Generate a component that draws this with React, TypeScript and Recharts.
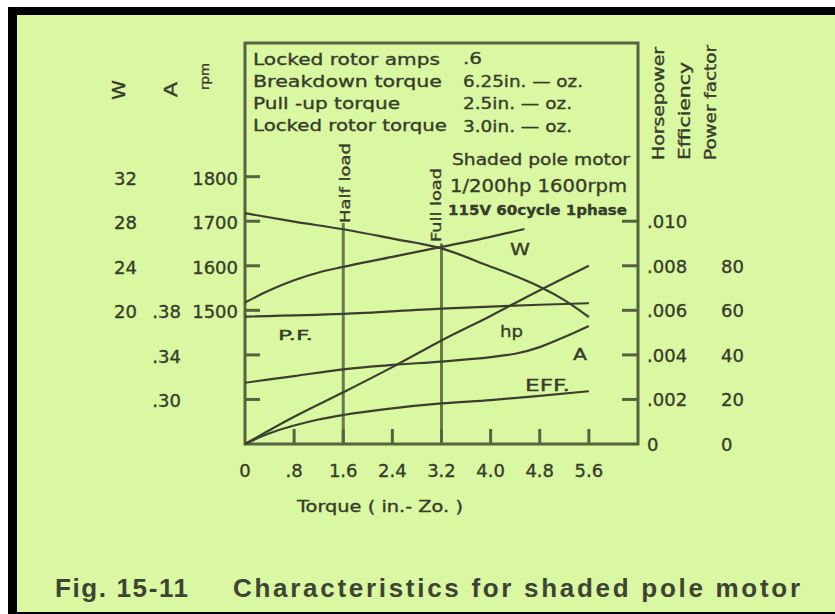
import { Line, LineChart, ReferenceArea, ReferenceLine, XAxis, YAxis } from "recharts";

// torque axis (in.-oz.)
const TORQUE_TICKS = [0, 0.8, 1.6, 2.4, 3.2, 4.0, 4.8, 5.6];
const TORQUE_LABELS = ["0", ".8", "1.6", "2.4", "3.2", "4.0", "4.8", "5.6"];

// left scales
const RPM_TICKS = [1300, 1400, 1500, 1600, 1700, 1800];
const RPM_LABELS = ["", "", "1500", "1600", "1700", "1800"];
const AMP_TICKS = [0.3, 0.34, 0.38];
const AMP_LABELS = [".30", ".34", ".38"];
const WATT_TICKS = [20, 24, 28, 32];
const WATT_LABELS = ["20", "24", "28", "32"];

// right scales
const HP_TICKS = [0, 0.002, 0.004, 0.006, 0.008, 0.01];
const HP_LABELS = ["0", ".002", ".004", ".006", ".008", ".010"];
const PCT_TICKS = [0, 20, 40, 60, 80];
const PCT_LABELS = ["0", "20", "40", "60", "80"];

// curves
const SPEED_T = [0, 0.8, 1.6, 2.4, 3.2, 4.0, 4.4, 4.8, 5.2, 5.6];
const SPEED_RPM = [1718, 1699, 1682, 1661, 1639, 1598, 1577, 1553, 1523, 1485];

const WATT_T = [0, 0.4, 0.8, 1.2, 1.6, 2.4, 3.2, 4.0, 4.55];
const WATT_W = [20.7, 21.8, 22.7, 23.4, 23.9, 24.8, 25.7, 26.6, 27.3];

const PF_T = [0, 1.6, 3.2, 4.0, 4.8, 5.6];
const PF_PCT = [57.2, 58.4, 60.8, 61.7, 62.5, 63.2];

const HP_T = [0, 0.8, 1.6, 2.4, 3.2, 4.0, 4.8, 5.6];
const HP_HP = [0, 0.00122, 0.00232, 0.00345, 0.00465, 0.00575, 0.0069, 0.008];

const AMP_T = [0, 0.8, 1.6, 2.4, 3.2, 4.0, 4.4, 4.8, 5.2, 5.6];
const AMP_A = [0.315, 0.321, 0.327, 0.331, 0.334, 0.338, 0.341, 0.347, 0.356, 0.366];

const EFF_T = [0, 0.4, 0.8, 1.2, 1.6, 2.4, 3.2, 4.0, 4.8, 5.6];
const EFF_PCT = [0, 4.8, 8.3, 11.0, 13.0, 16.0, 18.2, 19.7, 21.6, 23.7];

// half load / full load markers (top end in rpm-axis units)
const LOAD_T = [1.6, 3.2];
const LOAD_TOP = [1696, 1650];

const pts = (t: number[], v: number[]) => t.map((x, i) => ({ t: x, v: v[i] }));

const INK = "#363d2b";
const CURVE = "#39412e";
const FRAME = "#56633f";
const LOADLINE = "#6a7a4c";
const BG = "#daf7a1";
const FONT = "'DejaVu Sans', sans-serif";

// axis ids sort in the order the axes sit outward from the plot
const AX_RPM = "l1";
const AX_AMP = "l2";
const AX_WATT = "l3";
const AX_HP = "r1";
const AX_PCT = "r2";

const textStyle = { fontFamily: FONT, fill: INK, stroke: INK, strokeWidth: 0.35 };

function LeftTick(props: any) {
  const { x, y, payload, ticks, labels, pad, mark } = props;
  const label = labels[ticks.indexOf(payload.value)];
  return (
    <g>
      {mark && <line x1={x} x2={x + 15} y1={y} y2={y} stroke={FRAME} strokeWidth={3} />}
      {label && (
        <text x={x - pad} y={y + 8} textAnchor="end" fontSize={18} {...textStyle}>
          {label}
        </text>
      )}
    </g>
  );
}

function RightTick(props: any) {
  const { x, y, payload, ticks, labels, pad, mark } = props;
  const label = labels[ticks.indexOf(payload.value)];
  return (
    <g>
      {mark && payload.value > 0 && (
        <line x1={x - 16} x2={x} y1={y} y2={y} stroke={FRAME} strokeWidth={3} />
      )}
      <text x={x + pad} y={y + 7} textAnchor="start" fontSize={18} {...textStyle}>
        {label}
      </text>
    </g>
  );
}

function BottomTick(props: any) {
  const { x, y, payload } = props;
  const label = TORQUE_LABELS[TORQUE_TICKS.indexOf(payload.value)];
  return (
    <g>
      {payload.value > 0 && <line x1={x} x2={x} y1={y - 15} y2={y} stroke={FRAME} strokeWidth={3} />}
      <text x={x} y={y + 33} textAnchor="middle" fontSize={18} {...textStyle}>
        {label}
      </text>
    </g>
  );
}

function T({ x, y, size = 16, len, bold, up, children }: any) {
  return (
    <text
      x={x}
      y={y}
      fontSize={size}
      fontWeight={bold ? 700 : 400}
      {...textStyle}
      textLength={len}
      lengthAdjust="spacingAndGlyphs"
      transform={up ? `rotate(-90 ${x} ${y})` : undefined}
    >
      {children}
    </text>
  );
}

export default function App() {
  const curve = { type: "monotone" as const, dot: false, stroke: CURVE, strokeWidth: 2.2, isAnimationActive: false, dataKey: "v", xAxisId: "t" };
  const yCommon = { interval: 0, axisLine: false, tickLine: false, tickSize: 0, tickMargin: 0 };

  return (
    <div style={{ position: "absolute", left: 0, top: 0, width: 835, height: 614, background: "#fff", overflow: "hidden" }}>
      <div
        style={{
          position: "absolute",
          left: 8,
          top: 7,
          width: 827,
          height: 607,
          boxSizing: "border-box",
          background: BG,
          borderTop: "8px solid #000",
          borderLeft: "9px solid #000",
          borderBottom: "2px solid #000",
        }}
      />
      <div style={{ position: "absolute", left: 0, top: 0 }}>
        <LineChart width={835} height={614} margin={{ top: 43, right: 0, bottom: 110, left: 0 }}>
          <XAxis
            xAxisId="t"
            type="number"
            dataKey="t"
            domain={[0, 6.4]}
            ticks={TORQUE_TICKS}
            interval={0}
            height={60}
            axisLine={false}
            tickLine={false}
            tickSize={0}
            tickMargin={0}
            tick={(p: any) => <BottomTick {...p} />}
          />
          <YAxis
            yAxisId={AX_RPM}
            domain={[1200, 2100]}
            ticks={RPM_TICKS}
            width={60}
            {...yCommon}
            tick={(p: any) => <LeftTick {...p} ticks={RPM_TICKS} labels={RPM_LABELS} pad={7} mark />}
          />
          <YAxis
            yAxisId={AX_AMP}
            domain={[0.26, 0.62]}
            ticks={AMP_TICKS}
            width={48}
            {...yCommon}
            tick={(p: any) => <LeftTick {...p} ticks={AMP_TICKS} labels={AMP_LABELS} pad={4} />}
          />
          <YAxis
            yAxisId={AX_WATT}
            domain={[8, 44]}
            ticks={WATT_TICKS}
            width={137}
            {...yCommon}
            tick={(p: any) => <LeftTick {...p} ticks={WATT_TICKS} labels={WATT_LABELS} pad={0} />}
          />
          <YAxis
            yAxisId={AX_HP}
            orientation="right"
            domain={[0, 0.018]}
            ticks={HP_TICKS}
            width={75}
            {...yCommon}
            tick={(p: any) => <RightTick {...p} ticks={HP_TICKS} labels={HP_LABELS} pad={9} mark />}
          />
          <YAxis
            yAxisId={AX_PCT}
            orientation="right"
            domain={[0, 180]}
            ticks={PCT_TICKS}
            width={122}
            {...yCommon}
            tick={(p: any) => <RightTick {...p} ticks={PCT_TICKS} labels={PCT_LABELS} pad={8} />}
          />

          <ReferenceArea
            xAxisId="t"
            yAxisId={AX_RPM}
            x1={0}
            x2={6.4}
            y1={1200}
            y2={2100}
            fill="none"
            fillOpacity={0}
            stroke={FRAME}
            strokeWidth={3}
          />
          {LOAD_T.map((t, i) => (
            <ReferenceLine
              key={t}
              xAxisId="t"
              yAxisId={AX_RPM}
              segment={[
                { x: t, y: 1200 },
                { x: t, y: LOAD_TOP[i] },
              ]}
              stroke={LOADLINE}
              strokeWidth={3}
            />
          ))}

          <Line {...curve} yAxisId={AX_RPM} data={pts(SPEED_T, SPEED_RPM)} />
          <Line {...curve} yAxisId={AX_WATT} data={pts(WATT_T, WATT_W)} />
          <Line {...curve} yAxisId={AX_PCT} data={pts(PF_T, PF_PCT)} />
          <Line {...curve} yAxisId={AX_HP} data={pts(HP_T, HP_HP)} />
          <Line {...curve} yAxisId={AX_AMP} data={pts(AMP_T, AMP_A)} />
          <Line {...curve} yAxisId={AX_PCT} data={pts(EFF_T, EFF_PCT)} />
        </LineChart>
      </div>

      <svg width={835} height={614} style={{ position: "absolute", left: 0, top: 0, pointerEvents: "none" }}>
        {/* motor data box */}
        <T x={253} y={65} len={187}>Locked rotor amps</T>
        <T x={253} y={87} len={189}>Breakdown torque</T>
        <T x={253} y={108.5} len={147}>Pull -up torque</T>
        <T x={253} y={130.5} len={194}>Locked rotor torque</T>
        <T x={463} y={64} len={19}>.6</T>
        <T x={463} y={87} len={120}>6.25in. — oz.</T>
        <T x={463} y={109} len={109}>2.5in. — oz.</T>
        <T x={463} y={132} len={109}>3.0in. — oz.</T>

        <T x={452} y={165} size={15} len={178}>Shaded pole motor</T>
        <T x={450} y={192} size={18} len={177}>1/200hp 1600rpm</T>
        <T x={448} y={215} size={14} len={179} bold>115V 60cycle 1phase</T>

        {/* axis names */}
        <T x={125} y={100} size={17} len={20} up>W</T>
        <T x={177} y={97} size={17} len={15} up>A</T>
        <T x={209} y={90} size={12} len={27} up>rpm</T>
        <T x={664} y={160} size={15} len={113} up>Horsepower</T>
        <T x={690} y={160} size={15} len={98} up>Efficiency</T>
        <T x={716} y={160} size={15} len={115} up>Power factor</T>

        <T x={350} y={223} size={14} len={80} up>Half load</T>
        <T x={441} y={242} size={14} len={74} up>Full load</T>

        {/* curve names */}
        <T x={510} y={255} size={15} len={20}>W</T>
        <T x={278} y={340} size={14} len={35}>P.F.</T>
        <T x={500} y={337} size={16} len={23}>hp</T>
        <T x={573} y={360} size={15} len={14}>A</T>
        <T x={525} y={391} size={15} len={45}>EFF.</T>

        <T x={297} y={512} size={15} len={166}>Torque ( in.- Zo. )</T>

        <text
          x={55}
          y={597}
          fontSize={26}
          fontWeight={700}
          fontFamily="'Liberation Sans', Arial, sans-serif"
          fill="#3e4434"
          textLength={133}
          lengthAdjust="spacing"
        >
          Fig. 15-11
        </text>
        <text
          x={233}
          y={597}
          fontSize={26}
          fontWeight={700}
          fontFamily="'Liberation Sans', Arial, sans-serif"
          fill="#3e4434"
          textLength={567}
          lengthAdjust="spacing"
        >
          Characteristics for shaded pole motor
        </text>
      </svg>
    </div>
  );
}
